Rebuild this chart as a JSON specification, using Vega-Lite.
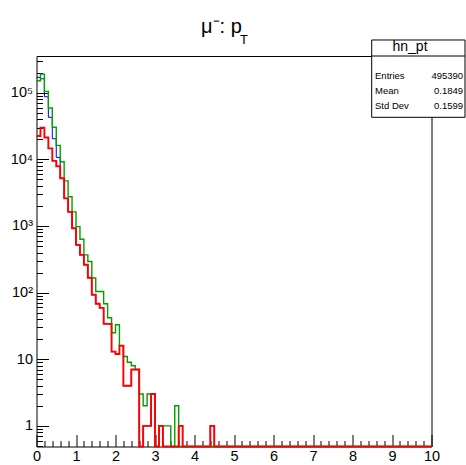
{
  "$schema": "https://vega.github.io/schema/vega-lite/v6.json",
  "width": 395,
  "height": 390.5,
  "autosize": {"type": "none"},
  "padding": {"left": 36.5, "top": 56, "right": 34.5, "bottom": 18.5},
  "background": "white",
  "config": {"view": {"stroke": "black", "strokeWidth": 1}, "font": "Liberation Sans"},
  "layer": [
    {
      "data": {"values": [
        {"x":0,"b":170000,"g":151000,"r":22400},
        {"x":0.1,"b":162000,"g":190000,"r":30000},
        {"x":0.2,"b":87000,"g":105000,"r":21300},
        {"x":0.3,"b":42800,"g":59000,"r":14600},
        {"x":0.4,"b":20400,"g":30300,"r":9500},
        {"x":0.5,"b":10700,"g":16200,"r":7900},
        {"x":0.6,"b":5200,"g":9200,"r":5200},
        {"x":0.7,"b":2600,"g":4750,"r":2600},
        {"x":0.8,"b":1630,"g":2740,"r":1630},
        {"x":0.9,"b":924,"g":1630,"r":924},
        {"x":1,"b":520,"g":977,"r":520},
        {"x":1.1,"b":369,"g":633,"r":369},
        {"x":1.2,"b":262,"g":369,"r":262},
        {"x":1.3,"b":167,"g":293,"r":167},
        {"x":1.4,"b":93,"g":166,"r":93},
        {"x":1.5,"b":68,"g":104,"r":68},
        {"x":1.6,"b":59,"g":104,"r":59},
        {"x":1.7,"b":34,"g":68,"r":34},
        {"x":1.8,"b":34,"g":42,"r":34},
        {"x":1.9,"b":13,"g":25,"r":13},
        {"x":2,"b":12,"g":33,"r":12},
        {"x":2.1,"b":16,"g":16,"r":16},
        {"x":2.2,"b":4,"g":11,"r":4},
        {"x":2.3,"b":4,"g":9,"r":4},
        {"x":2.4,"b":7,"g":8,"r":7},
        {"x":2.5,"b":7,"g":7,"r":7},
        {"x":2.6,"b":0,"g":3,"r":0},
        {"x":2.7,"b":1,"g":2,"r":1},
        {"x":2.8,"b":1,"g":3,"r":1},
        {"x":2.9,"b":3,"g":3,"r":3},
        {"x":3,"b":0,"g":0,"r":0},
        {"x":3.1,"b":1,"g":1,"r":1},
        {"x":3.2,"b":0,"g":1,"r":0},
        {"x":3.3,"b":0,"g":1,"r":0},
        {"x":3.4,"b":0,"g":0,"r":0},
        {"x":3.5,"b":0,"g":2,"r":0},
        {"x":3.6,"b":1,"g":0,"r":1},
        {"x":3.7,"b":0,"g":0,"r":0},
        {"x":3.8,"b":0,"g":0,"r":0},
        {"x":3.9,"b":0,"g":0,"r":0},
        {"x":4,"b":0,"g":0,"r":0},
        {"x":4.1,"b":0,"g":0,"r":0},
        {"x":4.2,"b":0,"g":0,"r":0},
        {"x":4.3,"b":0,"g":0,"r":0},
        {"x":4.4,"b":1,"g":0,"r":1},
        {"x":4.5,"b":0,"g":0,"r":0},
        {"x":4.6,"b":0,"g":0,"r":0},
        {"x":4.7,"b":0,"g":0,"r":0},
        {"x":4.8,"b":0,"g":0,"r":0},
        {"x":4.9,"b":0,"g":0,"r":0},
        {"x":5,"b":0,"g":0,"r":0},
        {"x":5.1,"b":0,"g":0,"r":0},
        {"x":5.2,"b":0,"g":0,"r":0},
        {"x":5.3,"b":0,"g":0,"r":0},
        {"x":5.4,"b":0,"g":0,"r":0},
        {"x":5.5,"b":0,"g":0,"r":0},
        {"x":5.6,"b":0,"g":0,"r":0},
        {"x":5.7,"b":0,"g":0,"r":0},
        {"x":5.8,"b":0,"g":0,"r":0},
        {"x":5.9,"b":0,"g":0,"r":0},
        {"x":6,"b":0,"g":0,"r":0},
        {"x":6.1,"b":0,"g":0,"r":0},
        {"x":6.2,"b":0,"g":0,"r":0},
        {"x":6.3,"b":0,"g":0,"r":0},
        {"x":6.4,"b":0,"g":0,"r":0},
        {"x":6.5,"b":0,"g":0,"r":0},
        {"x":6.6,"b":0,"g":0,"r":0},
        {"x":6.7,"b":0,"g":0,"r":0},
        {"x":6.8,"b":0,"g":0,"r":0},
        {"x":6.9,"b":0,"g":0,"r":0},
        {"x":7,"b":0,"g":0,"r":0},
        {"x":7.1,"b":0,"g":0,"r":0},
        {"x":7.2,"b":0,"g":0,"r":0},
        {"x":7.3,"b":0,"g":0,"r":0},
        {"x":7.4,"b":0,"g":0,"r":0},
        {"x":7.5,"b":0,"g":0,"r":0},
        {"x":7.6,"b":0,"g":0,"r":0},
        {"x":7.7,"b":0,"g":0,"r":0},
        {"x":7.8,"b":0,"g":0,"r":0},
        {"x":7.9,"b":0,"g":0,"r":0},
        {"x":8,"b":0,"g":0,"r":0},
        {"x":8.1,"b":0,"g":0,"r":0},
        {"x":8.2,"b":0,"g":0,"r":0},
        {"x":8.3,"b":0,"g":0,"r":0},
        {"x":8.4,"b":0,"g":0,"r":0},
        {"x":8.5,"b":0,"g":0,"r":0},
        {"x":8.6,"b":0,"g":0,"r":0},
        {"x":8.7,"b":0,"g":0,"r":0},
        {"x":8.8,"b":0,"g":0,"r":0},
        {"x":8.9,"b":0,"g":0,"r":0},
        {"x":9,"b":0,"g":0,"r":0},
        {"x":9.1,"b":0,"g":0,"r":0},
        {"x":9.2,"b":0,"g":0,"r":0},
        {"x":9.3,"b":0,"g":0,"r":0},
        {"x":9.4,"b":0,"g":0,"r":0},
        {"x":9.5,"b":0,"g":0,"r":0},
        {"x":9.6,"b":0,"g":0,"r":0},
        {"x":9.7,"b":0,"g":0,"r":0},
        {"x":9.8,"b":0,"g":0,"r":0},
        {"x":9.9,"b":0,"g":0,"r":0},
        {"x":10,"b":0,"g":0,"r":0}
      ]},
      "layer": [
        {
          "mark": {"type": "line", "interpolate": "step-after", "color": "#0000dd", "strokeWidth": 1},
          "encoding": {
            "x": {"field": "x", "type": "quantitative",
              "scale": {"domain": [0, 10], "nice": false, "zero": false},
              "axis": {
                "orient": "bottom", "title": null, "grid": false, "domain": false,
                "values": [0,1,2,3,4,5,6,7,8,9,10],
                "format": "d",
                "offset": -12, "tickSize": 12, "labelPadding": 3,
                "labelFontSize": 14.5, "labelFont": "Liberation Sans", "labelColor": "black",
                "labelOverlap": false, "labelFlush": false,
                "tickColor": "black", "tickWidth": 1
              }},
            "y": {"field": "b", "type": "quantitative",
              "scale": {"type": "log", "domain": [0.49, 356000], "nice": false, "clamp": true},
              "axis": {
                "orient": "left", "title": null, "grid": false, "domain": false,
                "values": [1,10,100,1000,10000,100000],
                "labelExpr": "datum.value === 1 ? '1' : datum.value === 10 ? '10' : datum.value === 100 ? '10²' : datum.value === 1000 ? '10³' : datum.value === 10000 ? '10⁴' : '10⁵'",
                "offset": -12, "tickSize": 12, "labelPadding": 4,
                "labelFontSize": 14.5, "labelFont": "Liberation Sans", "labelColor": "black",
                "labelOverlap": false,
                "tickColor": "black", "tickWidth": 1
              }}
          }
        },
        {
          "mark": {"type": "line", "interpolate": "step-after", "color": "#00a000", "strokeWidth": 1.4},
          "encoding": {
            "x": {"field": "x", "type": "quantitative",
              "scale": {"domain": [0, 10], "nice": false, "zero": false},
              "axis": {
                "orient": "bottom", "title": null, "grid": false, "domain": false, "labels": false,
                "values": [0.2,0.4,0.6,0.8,1.2,1.4,1.6,1.8,2.2,2.4,2.6,2.8,3.2,3.4,3.6,3.8,4.2,4.4,4.6,4.8,5.2,5.4,5.6,5.8,6.2,6.4,6.6,6.8,7.2,7.4,7.6,7.8,8.2,8.4,8.6,8.8,9.2,9.4,9.6,9.8],
                "offset": -6, "tickSize": 6,
                "tickColor": "black", "tickWidth": 1
              }},
            "y": {"field": "g", "type": "quantitative",
              "scale": {"type": "log", "domain": [0.49, 356000], "nice": false, "clamp": true},
              "axis": {
                "orient": "left", "title": null, "grid": false, "domain": false, "labels": false,
                "values": [0.5,0.6,0.7,0.8,0.9,2,3,4,5,6,7,8,9,20,30,40,50,60,70,80,90,200,300,400,500,600,700,800,900,2000,3000,4000,5000,6000,7000,8000,9000,20000,30000,40000,50000,60000,70000,80000,90000,200000,300000],
                "offset": -6, "tickSize": 6,
                "tickColor": "black", "tickWidth": 1
              }}
          }
        },
        {
          "mark": {"type": "line", "interpolate": "step-after", "color": "#ff0000", "strokeWidth": 1.9},
          "encoding": {
            "x": {"field": "x", "type": "quantitative",
              "scale": {"domain": [0, 10], "nice": false, "zero": false}, "axis": null},
            "y": {"field": "r", "type": "quantitative",
              "scale": {"type": "log", "domain": [0.49, 356000], "nice": false, "clamp": true}, "axis": null}
          }
        }
      ],
      "resolve": {"axis": {"x": "independent", "y": "independent"}}
    },
    {
      "data": {"values": [
        {"name": "hn_pt", "title": "μ⁻: p", "sub": "T", "labels": ["Entries", "Mean", "Std Dev"], "vals": ["495390", "0.1849", "0.1599"]}
      ]},
      "layer": [
        {
          "mark": {"type": "rect", "fill": "white", "stroke": "black", "strokeWidth": 1},
          "encoding": {
            "x": {"datum": 8.486, "type": "quantitative", "scale": {"domain": [0, 10], "nice": false, "zero": false}, "axis": null},
            "x2": {"datum": 10.848},
            "y": {"datum": 0.843, "type": "quantitative", "scale": {"domain": [0, 1], "nice": false, "zero": false}, "axis": null},
            "y2": {"datum": 1.041}
          }
        },
        {
          "mark": {"type": "rule", "color": "black", "strokeWidth": 1},
          "encoding": {
            "x": {"datum": 8.486, "type": "quantitative", "scale": {"domain": [0, 10], "nice": false, "zero": false}, "axis": null},
            "x2": {"datum": 10.848},
            "y": {"datum": 1.0, "type": "quantitative", "scale": {"domain": [0, 1], "nice": false, "zero": false}, "axis": null}
          }
        },
        {
          "mark": {"type": "text", "fontSize": 14, "align": "center", "baseline": "middle", "color": "black"},
          "encoding": {
            "x": {"datum": 9.456, "type": "quantitative", "scale": {"domain": [0, 10], "nice": false, "zero": false}, "axis": null},
            "y": {"datum": 1.022, "type": "quantitative", "scale": {"domain": [0, 1], "nice": false, "zero": false}, "axis": null},
            "text": {"field": "name", "type": "nominal"}
          }
        },
        {
          "mark": {"type": "text", "fontSize": 9.5, "align": "left", "baseline": "middle", "lineHeight": 15.2, "color": "black"},
          "encoding": {
            "x": {"datum": 8.57, "type": "quantitative", "scale": {"domain": [0, 10], "nice": false, "zero": false}, "axis": null},
            "y": {"datum": 0.9495, "type": "quantitative", "scale": {"domain": [0, 1], "nice": false, "zero": false}, "axis": null},
            "text": {"field": "labels", "type": "nominal"}
          }
        },
        {
          "mark": {"type": "text", "fontSize": 9.5, "align": "right", "baseline": "middle", "lineHeight": 15.2, "color": "black"},
          "encoding": {
            "x": {"datum": 10.80, "type": "quantitative", "scale": {"domain": [0, 10], "nice": false, "zero": false}, "axis": null},
            "y": {"datum": 0.9495, "type": "quantitative", "scale": {"domain": [0, 1], "nice": false, "zero": false}, "axis": null},
            "text": {"field": "vals", "type": "nominal"}
          }
        },
        {
          "mark": {"type": "text", "fontSize": 20, "align": "left", "baseline": "alphabetic", "color": "black"},
          "encoding": {
            "x": {"datum": 4.165, "type": "quantitative", "scale": {"domain": [0, 10], "nice": false, "zero": false}, "axis": null},
            "y": {"datum": 1.0589, "type": "quantitative", "scale": {"domain": [0, 1], "nice": false, "zero": false}, "axis": null},
            "text": {"field": "title", "type": "nominal"}
          }
        },
        {
          "mark": {"type": "text", "fontSize": 13, "align": "left", "baseline": "alphabetic", "color": "black"},
          "encoding": {
            "x": {"datum": 5.152, "type": "quantitative", "scale": {"domain": [0, 10], "nice": false, "zero": false}, "axis": null},
            "y": {"datum": 1.0307, "type": "quantitative", "scale": {"domain": [0, 1], "nice": false, "zero": false}, "axis": null},
            "text": {"field": "sub", "type": "nominal"}
          }
        }
      ]
    }
  ],
  "resolve": {"scale": {"y": "independent"}}
}
